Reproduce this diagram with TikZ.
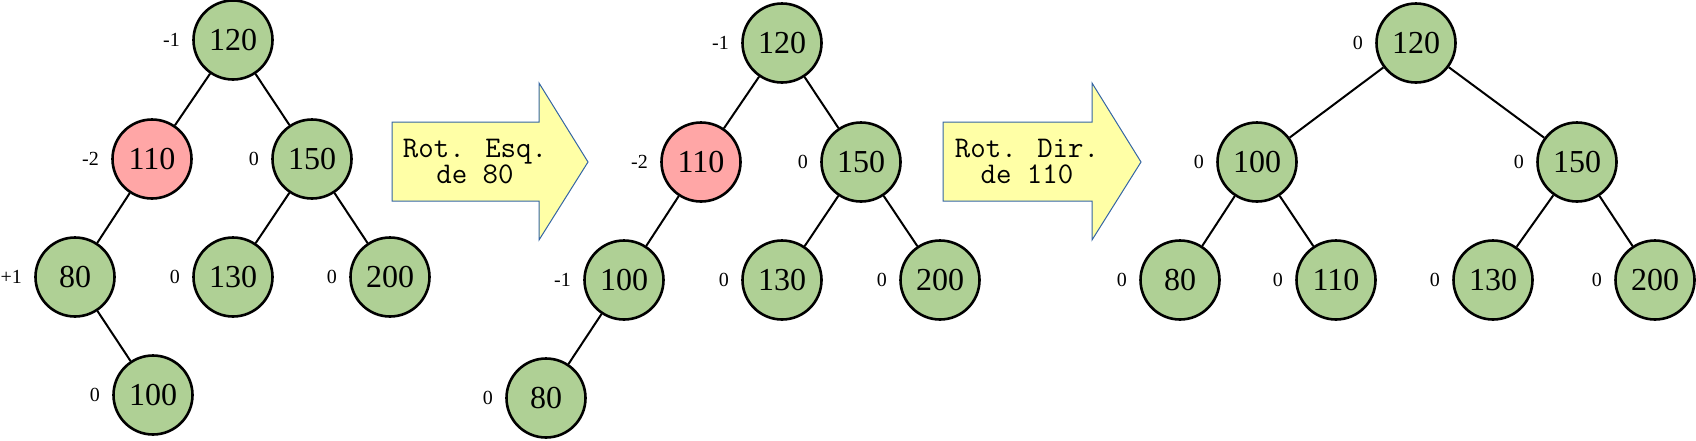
\documentclass[tikz,border=0pt]{standalone}
\usepackage{fontspec}
\setmainfont{Liberation Serif}
\usetikzlibrary{shapes,positioning}
\definecolor{avlgreen}{RGB}{175,208,149}
\definecolor{avlred}{RGB}{255,166,166}
\definecolor{rotyellow}{RGB}{255,255,166}
\definecolor{rotblue}{RGB}{52,101,164}

\begin{document}
\begin{tikzpicture}[x=0.5pt, y=-0.5pt,
    key/.style={circle, draw, line width=1.3pt, fill=avlgreen, minimum size=39.5pt, inner sep=0pt, font=\fontsize{16}{16}\selectfont},
    bad/.style={fill=avlred},
    bal/.style={font=\fontsize{10}{10}\selectfont, inner sep=0pt, label distance=6pt},
    edge/.style={line width=1pt},
    rot/.style={draw=rotblue, line width=0.5pt, fill=rotyellow},
    rottext/.style={align=center, font=\ttfamily\fontsize{15}{13}\selectfont}]
  \useasboundingbox (0,0) rectangle (1696,440);

  % arvore inicial
  \node[key, label={[bal]left:-1}] (a120) at (233,40) {120};
  \node[key, bad, label={[bal]left:-2}] (a110) at (152,159) {110};
  \node[key, label={[bal]left:0}] (a150) at (312,159) {150};
  \node[key, label={[bal]left:+1}] (a80) at (75,277) {80};
  \node[key, label={[bal]left:0}] (a130) at (233,277) {130};
  \node[key, label={[bal]left:0}] (a200) at (390,277) {200};
  \node[key, label={[bal]left:0}] (a100) at (153,395) {100};

  \draw[edge] (a120) -- (a110);
  \draw[edge] (a120) -- (a150);
  \draw[edge] (a110) -- (a80);
  \draw[edge] (a80) -- (a100);
  \draw[edge] (a150) -- (a130);
  \draw[edge] (a150) -- (a200);

  % rotacao a esquerda
  \draw[rot] (392,122) -- (539,122) -- (539,83) -- (588,162) -- (539,240) -- (539,201) -- (392,201) -- cycle;
  \node[rottext] (rotesq) at (475,162) {Rot. Esq.\\de 80};

  % depois da rotacao a esquerda
  \node[key, label={[bal]left:-1}] (b120) at (782,43) {120};
  \node[key, bad, label={[bal]left:-2}] (b110) at (701,162) {110};
  \node[key, label={[bal]left:0}] (b150) at (861,162) {150};
  \node[key, label={[bal]left:-1}] (b100) at (624,280) {100};
  \node[key, label={[bal]left:0}] (b130) at (782,280) {130};
  \node[key, label={[bal]left:0}] (b200) at (940,280) {200};
  \node[key, label={[bal]left:0}] (b80) at (546,398) {80};

  \draw[edge] (b120) -- (b110);
  \draw[edge] (b120) -- (b150);
  \draw[edge] (b110) -- (b100);
  \draw[edge] (b100) -- (b80);
  \draw[edge] (b150) -- (b130);
  \draw[edge] (b150) -- (b200);

  % rotacao a direita
  \draw[rot] (943,122) -- (1092,122) -- (1092,83) -- (1141,162) -- (1092,240) -- (1092,201) -- (943,201) -- cycle;
  \node[rottext] (rotdir) at (1027,162) {Rot. Dir.\\de 110};

  % arvore balanceada
  \node[key, label={[bal]left:0}] (c120) at (1416,43) {120};
  \node[key, label={[bal]left:0}] (c100) at (1257,162) {100};
  \node[key, label={[bal]left:0}] (c150) at (1577,162) {150};
  \node[key, label={[bal]left:0}] (c80) at (1180,280) {80};
  \node[key, label={[bal]left:0}] (c110) at (1336,280) {110};
  \node[key, label={[bal]left:0}] (c130) at (1493,280) {130};
  \node[key, label={[bal]left:0}] (c200) at (1655,280) {200};

  \draw[edge] (c120) -- (c100);
  \draw[edge] (c120) -- (c150);
  \draw[edge] (c100) -- (c80);
  \draw[edge] (c100) -- (c110);
  \draw[edge] (c150) -- (c130);
  \draw[edge] (c150) -- (c200);
\end{tikzpicture}
\end{document}
